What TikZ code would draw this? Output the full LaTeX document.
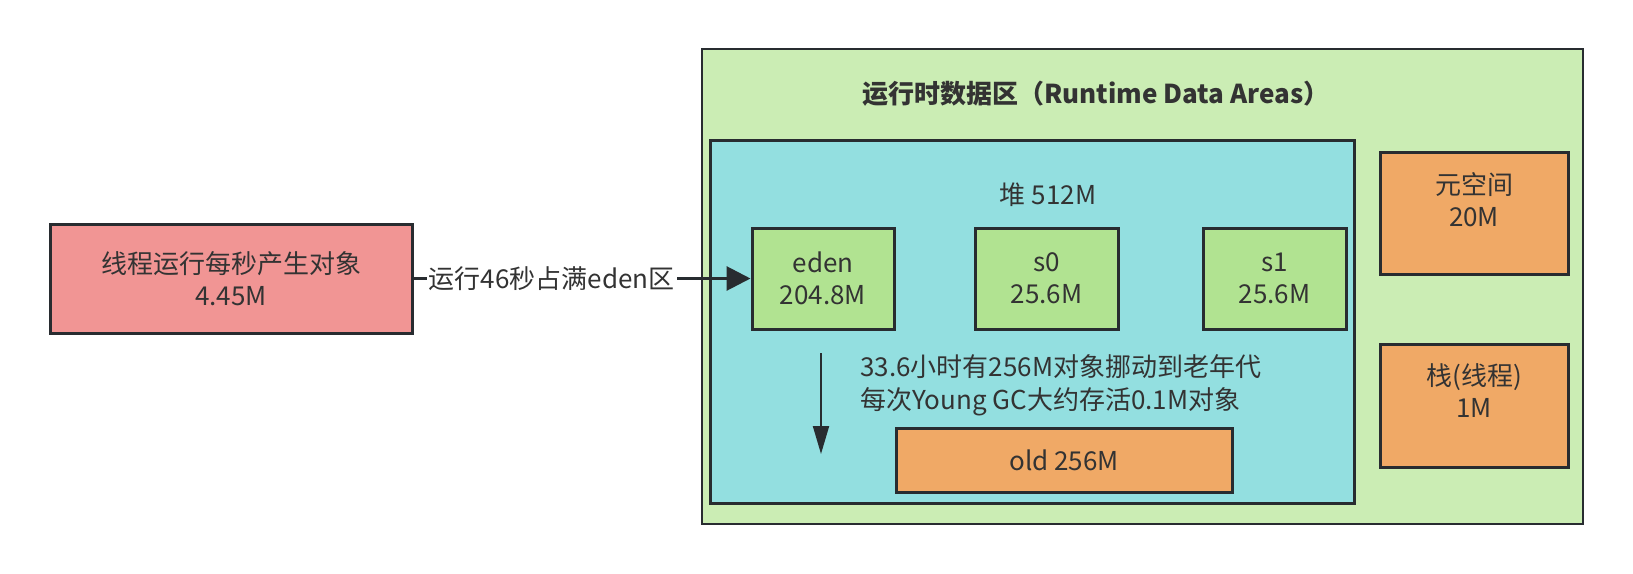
\documentclass[tikz,border=0pt]{standalone}
\usepackage{fontspec}
\setmainfont{Noto Sans CJK SC}
\usetikzlibrary{arrows.meta}
\definecolor{ink}{RGB}{40,44,48}
\definecolor{txt}{RGB}{51,51,51}
\definecolor{pinkfill}{RGB}{241,149,148}
\definecolor{outerfill}{RGB}{203,237,180}
\definecolor{heapfill}{RGB}{147,223,224}
\definecolor{genfill}{RGB}{177,227,145}
\definecolor{orangefill}{RGB}{240,169,102}
\tikzset{
  box/.style={draw=ink, line width=3pt, inner sep=0pt, text=txt, align=center,
    font=\fontsize{26}{32}\selectfont},
  plain/.style={inner sep=0pt, text=txt, font=\fontsize{26}{32}\selectfont},
}
\begin{document}
\begin{tikzpicture}[x=1pt,y=-1pt]
\useasboundingbox (0,0) rectangle (1633,573);
% outer runtime area
\node[box, line width=2.5pt, fill=outerfill, minimum width=881pt, minimum height=475pt] (rt) at (1142.5,286.5) {};
\node[plain, font=\fontsize{26}{32}\selectfont\bfseries] (rttitle) at (1096,94) {运行时数据区（Runtime Data Areas）};
% heap
\node[box, fill=heapfill, minimum width=644pt, minimum height=363pt] (heap) at (1032,321.5) {};
\node[plain] (heaptitle) at (1048,195) {堆 512M};
% generations
\node[box, fill=genfill, minimum width=142pt, minimum height=101pt] (eden) at (823,278.5) {eden\\204.8M};
\node[box, fill=genfill, minimum width=143pt, minimum height=101pt] (s0) at (1046.5,278.5) {s0\\25.6M};
\node[box, fill=genfill, minimum width=143pt, minimum height=101pt] (s1) at (1274.5,278.5) {s1\\25.6M};
\node[box, fill=orangefill, minimum width=336pt, minimum height=64pt] (old) at (1064,460) {old 256M};
% meta and stack
\node[box, fill=orangefill, minimum width=188pt, minimum height=122pt] (meta) at (1474,213) {};
\node[plain, align=center] (metatext) at (1474,199.5) {元空间\\20M};
\node[box, fill=orangefill, minimum width=188pt, minimum height=123pt] (stack) at (1474,405.5) {};
\node[plain, align=center] (stacktext) at (1474,391) {栈(线程)\\1M};
% thread box
\node[box, fill=pinkfill, minimum width=362pt, minimum height=109pt] (thread) at (231,278.5) {线程运行每秒产生对象\\4.45M};
% arrow thread -> eden
\draw[draw=ink, line width=3pt, -{Triangle[length=24pt,width=24pt]}] (thread.east) -- node[pos=0.41, plain, fill=white, inner xsep=2pt, inner ysep=1pt] (lbl) {运行46秒占满eden区} (eden.west);
% promotion arrow
\coordinate (pa) at (821,353);
\coordinate (pb) at (821,454);
\draw[draw=ink, line width=2pt, -{Triangle[length=28pt,width=16pt]}] (pa) -- (pb);
\node[plain, anchor=west, align=left, font=\fontsize{26}{33}\selectfont] (promo) at (860,385.5) {33.6小时有256M对象挪动到老年代\\每次Young GC大约存活0.1M对象};
\end{tikzpicture}
\end{document}
